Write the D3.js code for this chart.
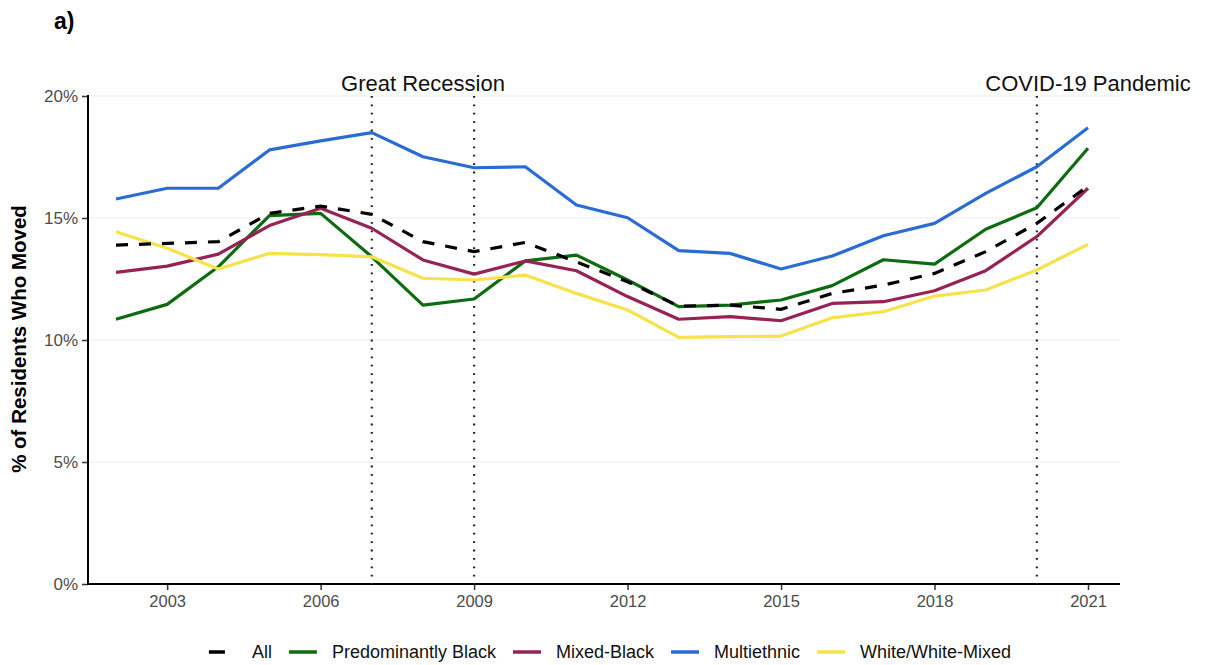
<!DOCTYPE html>
<html>
<head>
<meta charset="utf-8">
<script src="https://cdn.jsdelivr.net/npm/d3@7"></script>
<style>
  html, body { margin: 0; padding: 0; background: #fff; }
  svg { display: block; font-family: "Liberation Sans", Arial, sans-serif; }
</style>
</head>
<body>
<svg id="chart" width="1207" height="665"></svg>
<script>
const years = [2002,2003,2004,2005,2006,2007,2008,2009,2010,2011,2012,2013,2014,2015,2016,2017,2018,2019,2020,2021];
const seriesNames = ["All", "Predominantly Black", "Mixed-Black", "Multiethnic", "White/White-Mixed"];
const allValues   = [13.89,13.96,14.03,15.19,15.49,15.15,14.03,13.62,14.0,13.2,12.39,11.39,11.43,11.26,11.91,12.25,12.73,13.62,14.78,16.31];
const blackValues = [10.85,11.46,13.0,15.1,15.19,13.41,11.43,11.68,13.24,13.48,12.46,11.37,11.43,11.64,12.23,13.29,13.11,14.54,15.42,17.86];
const mixedValues = [12.77,13.03,13.52,14.69,15.4,14.58,13.28,12.7,13.24,12.84,11.78,10.85,10.96,10.79,11.5,11.57,12.02,12.84,14.24,16.22];
const multiValues = [15.78,16.22,16.22,17.79,18.16,18.5,17.51,17.06,17.1,15.53,15.01,13.66,13.55,12.91,13.44,14.27,14.78,16.01,17.1,18.7];
const whiteValues = [14.44,13.76,12.91,13.55,13.5,13.41,12.53,12.46,12.66,11.91,11.23,10.11,10.14,10.16,10.91,11.16,11.8,12.05,12.87,13.92];
const yTicks = [0, 5, 10, 15, 20];
const xTicks = [2003, 2006, 2009, 2012, 2015, 2018, 2021];
const events = [2007, 2009, 2020];
const eventLabels = [{label: "Great Recession", at: 2008}, {label: "COVID-19 Pandemic", at: 2021}];

const colors = ["#000000", "#0d6b10", "#972356", "#2a6bd4", "#f6e24b"];
const dashes = ["12,11", null, null, null, null];
const seriesValues = [allValues, blackValues, mixedValues, multiValues, whiteValues];
const drawOrder = [1, 2, 4, 3];

const svg = d3.select("#chart");
const pLeft = 88, pRight = 1120, pTop = 96, pBottom = 584;

const x = d3.scaleLinear().domain([2002, 2021]).range([116, 1088]);
const y = d3.scaleLinear().domain([0, 20]).range([pBottom, pTop]);

// gridlines
svg.append("g").selectAll("line").data(yTicks).join("line")
  .attr("x1", pLeft).attr("x2", pRight)
  .attr("y1", d => y(d)).attr("y2", d => y(d))
  .attr("stroke", "#ebebeb").attr("stroke-width", 1.2);

// Y axis
const yAxis = svg.append("g").attr("transform", `translate(${pLeft},0)`)
  .call(d3.axisLeft(y).tickValues(yTicks).tickSize(6).tickPadding(4).tickFormat(d => d + "%"));
yAxis.select(".domain").remove();
yAxis.selectAll(".tick line").attr("stroke", "#333").attr("stroke-width", 1.5);
yAxis.selectAll(".tick text").attr("fill", "#4d4d4d").style("font-size", "17px")
  .style("font-family", "Liberation Sans, Arial, sans-serif");
svg.append("line").attr("x1", pLeft).attr("x2", pLeft).attr("y1", pTop - 1).attr("y2", pBottom)
  .attr("stroke", "#000").attr("stroke-width", 2);

// X axis
const xAxis = svg.append("g").attr("transform", `translate(0,${pBottom})`)
  .call(d3.axisBottom(x).tickValues(xTicks).tickSize(6).tickPadding(5).tickFormat(d3.format("d")));
xAxis.select(".domain").remove();
xAxis.selectAll(".tick line").attr("stroke", "#333").attr("stroke-width", 1.5);
xAxis.selectAll(".tick text").attr("fill", "#4d4d4d").style("font-size", "16.5px")
  .style("font-family", "Liberation Sans, Arial, sans-serif");
svg.append("line").attr("x1", pLeft - 1).attr("x2", pRight).attr("y1", pBottom).attr("y2", pBottom)
  .attr("stroke", "#000").attr("stroke-width", 2);

// event lines
svg.append("g").selectAll("line").data(events).join("line")
  .attr("x1", d => x(d)).attr("x2", d => x(d))
  .attr("y1", pTop).attr("y2", pBottom)
  .attr("stroke", "#222").attr("stroke-width", 2.2)
  .attr("stroke-dasharray", "1.8,6.6").attr("stroke-linecap", "butt");

svg.append("g").selectAll("text").data(eventLabels).join("text")
  .attr("x", d => x(d.at)).attr("y", 91)
  .attr("text-anchor", "middle")
  .style("font-size", "22px").attr("fill", "#111")
  .text(d => d.label);

// lines
const line = d3.line().x((d, i) => x(years[i])).y(d => y(d));
svg.append("g").selectAll("path").data(drawOrder).join("path")
  .attr("d", k => line(seriesValues[k]))
  .attr("fill", "none")
  .attr("stroke", k => colors[k])
  .attr("stroke-width", 3.2)
  .attr("stroke-linejoin", "round");
svg.append("path").attr("d", line(allValues)).attr("fill", "none")
  .attr("stroke", colors[0]).attr("stroke-width", 3.2).attr("stroke-dasharray", dashes[0]);

// Y title
svg.append("text")
  .attr("transform", `translate(26,${(pTop + pBottom) / 2 - 1}) rotate(-90)`)
  .attr("text-anchor", "middle")
  .style("font-size", "20.5px").style("font-weight", "bold")
  .text("% of Residents Who Moved");

// panel label
svg.append("text").attr("x", 54).attr("y", 29)
  .style("font-size", "23px").style("font-weight", "bold")
  .text("a)");

// legend
const lg = svg.append("g");
let cx = 0;
seriesNames.forEach((name, i) => {
  const g = lg.append("g").attr("transform", `translate(${cx},0)`);
  const keyW = i === 0 ? 16 : 28;
  const gap = i === 0 ? 27 : 15;
  g.append("line").attr("x1", 0).attr("x2", keyW).attr("y1", 0).attr("y2", 0)
    .attr("stroke", colors[i]).attr("stroke-width", 3.5);
  const t = g.append("text").attr("x", keyW + gap).attr("y", 6)
    .style("font-size", "18px").attr("fill", "#111").text(name);
  const w = t.node().getComputedTextLength();
  cx += keyW + gap + w + 17;
});
const totalW = cx - 17;
lg.attr("transform", `translate(${610 - totalW / 2},652)`);
</script>
</body>
</html>
